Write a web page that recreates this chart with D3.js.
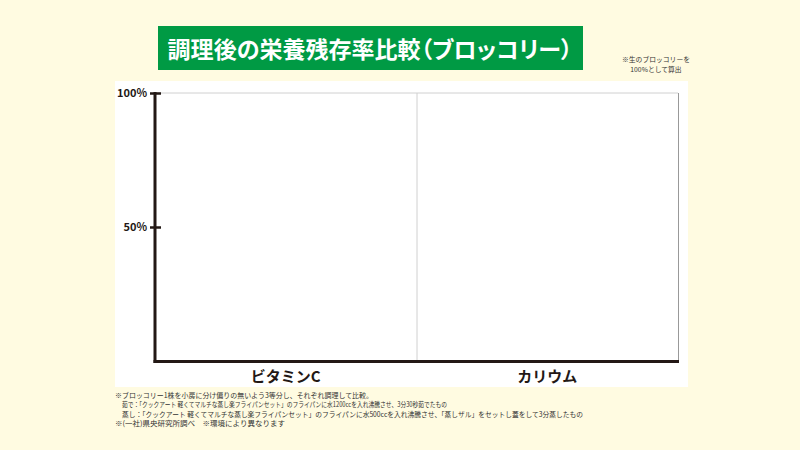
<!DOCTYPE html>
<html><head><meta charset="utf-8">
<script src="https://cdn.jsdelivr.net/npm/d3@7"></script>
<style>
html,body{margin:0;padding:0;background:#fffbe1;}
svg{display:block;}
text{font-family:"Noto Sans CJK JP","Noto Sans",sans-serif;}
.ttl{font-feature-settings:"palt" 1;}
</style></head>
<body>
<svg id="c" width="800" height="450"></svg>
<script>
const title = "調理後の栄養残存率比較（ブロッコリー）";
const noteLines = ["※生のブロッコリーを", "100%として算出"];
const categories = ["ビタミンC", "カリウム"];
const yTicks = [50, 100];
const yTickLabels = ["50%", "100%"];
const footnotes = [
  "※ブロッコリー1株を小房に分け偏りの無いよう3等分し、それぞれ調理して比較。",
  "茹で：「クックアート 軽くてマルチな蒸し楽フライパンセット」のフライパンに水1200ccを入れ沸騰させ、3分30秒茹でたもの",
  "蒸し：「クックアート 軽くてマルチな蒸し楽フライパンセット」のフライパンに水500ccを入れ沸騰させ、「蒸しザル」をセットし蓋をして3分蒸したもの",
  "※(一社)県央研究所調べ　※環境により異なります"
];
// layout (x start, text width) for footnote lines
const footLayout = [[115,258],[122,325],[122,461],[115,170]];

const svg = d3.select("#c");
svg.append("rect").attr("width",800).attr("height",450).attr("fill","#fffbe1");

// title
svg.append("rect").attr("x",158).attr("y",26).attr("width",425).attr("height",44).attr("fill","#009a44");
const tt = svg.append("text").attr("class","ttl").attr("x",370).attr("y",58).attr("text-anchor","middle")
  .attr("fill","#fff").attr("font-size",24).attr("font-weight",700).text(title);
// shrink only if natural width exceeds the box
const tw = tt.node().getComputedTextLength();
if (tw > 405) tt.attr("font-size", 24*405/tw);

svg.append("g").selectAll("text").data(noteLines).join("text")
  .attr("x",656).attr("y",(d,i)=>62+i*10).attr("text-anchor","middle")
  .attr("font-size",6.8).attr("fill","#333").text(d=>d);

// panel
svg.append("rect").attr("x",115).attr("y",81).attr("width",573).attr("height",306).attr("fill","#fff");

const x = d3.scaleBand().domain(categories).range([155,678]).padding(0);
const y = d3.scaleLinear().domain([0,100]).range([361,93]);

// grid lines
svg.append("line").attr("x1",155).attr("x2",678).attr("y1",y(100)).attr("y2",y(100))
  .attr("stroke","#d0d0d0").attr("stroke-width",1);
const seps = categories.slice(1).map(c=>x(c)).concat([x.range()[1]]);
svg.append("g").selectAll("line").data(seps).join("line")
  .attr("x1",d=>d+0.5).attr("x2",d=>d+0.5).attr("y1",y(100)).attr("y2",y(0))
  .attr("stroke",(d,i)=>i===seps.length-1?"#999":"#d0d0d0").attr("stroke-width",1);

// y axis
const yAxis = d3.axisLeft(y).tickValues(yTicks).tickFormat((d,i)=>yTickLabels[i]).tickSize(0).tickPadding(8);
const gy = svg.append("g").attr("transform","translate(155,0)").call(yAxis);
gy.select(".domain").remove();
gy.selectAll("text").attr("font-size",11).attr("font-weight",700).attr("fill","#231815");
gy.selectAll(".tick").append("line").attr("x1",-5).attr("x2",6).attr("stroke","#231815").attr("stroke-width",2.5);
svg.append("line").attr("x1",155).attr("x2",155).attr("y1",y(100)-1).attr("y2",y(0)+2)
  .attr("stroke","#231815").attr("stroke-width",3);

// x axis
const xAxis = d3.axisBottom(x).tickSize(0).tickPadding(10);
const gx = svg.append("g").attr("transform",`translate(0,${y(0)})`).call(xAxis);
gx.select(".domain").remove();
gx.selectAll("text").attr("font-size",15).attr("font-weight",700).attr("fill","#231815");
svg.append("line").attr("x1",153.5).attr("x2",679).attr("y1",y(0)+0.5).attr("y2",y(0)+0.5)
  .attr("stroke","#231815").attr("stroke-width",3);

// footnotes
svg.append("g").selectAll("text").data(footnotes).join("text")
  .attr("x",(d,i)=>footLayout[i][0]).attr("y",(d,i)=>398+i*9.3)
  .attr("textLength",(d,i)=>footLayout[i][1]).attr("lengthAdjust","spacingAndGlyphs")
  .attr("font-size",7.2).attr("fill","#333").text(d=>d);
</script>
</body></html>
